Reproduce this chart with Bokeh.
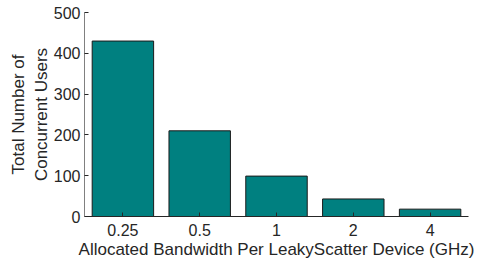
from bokeh.plotting import figure
from bokeh.models import FixedTicker, Range1d
from bokeh.embed import file_html
from bokeh.resources import INLINE

categories = ["0.25", "0.5", "1", "2", "4"]
users = [430, 210, 99, 43, 18]
y_ticks = [0, 100, 200, 300, 400, 500]

xs = list(range(1, len(categories) + 1))

p = figure(width=476, height=262, output_backend="svg", toolbar_location=None,
           x_range=Range1d(0.5, 5.5), y_range=Range1d(0, 500),
           min_border_left=84, min_border_right=8, min_border_top=12, min_border_bottom=46)
p.outline_line_color = None
p.grid.visible = False
p.background_fill_color = "white"
p.border_fill_color = "white"

p.vbar(x=xs, top=users, width=0.8, fill_color="#008080", line_color="#1a1a1a", line_width=1)

font = "Liberation Sans"
tc = "#262626"

p.xaxis.ticker = FixedTicker(ticks=xs)
p.xaxis.major_label_overrides = {x: c for x, c in zip(xs, categories)}
p.yaxis.ticker = FixedTicker(ticks=y_ticks)

for ax in (p.xaxis[0], p.yaxis[0]):
    ax.major_tick_in = 4
    ax.major_tick_out = 0
    ax.minor_tick_line_color = None
    ax.axis_line_color = tc
    ax.major_tick_line_color = tc
    ax.major_label_text_font = font
    ax.major_label_text_font_size = "16px"
    ax.major_label_text_color = tc
    ax.axis_label_text_font = font
    ax.axis_label_text_font_size = "17px"
    ax.axis_label_text_font_style = "normal"
    ax.axis_label_text_color = tc

p.yaxis.axis_line_color = "#808080"
p.xaxis.major_label_standoff = 7
p.yaxis.major_label_standoff = 4
p.xaxis.axis_label = "Allocated Bandwidth Per LeakyScatter Device (GHz)"
p.yaxis.axis_label = "Total Number of\nConcurrent Users"
p.xaxis.axis_label_standoff = 1
p.yaxis.axis_label_standoff = 0

open("out.html", "w").write(file_html(p, INLINE))
